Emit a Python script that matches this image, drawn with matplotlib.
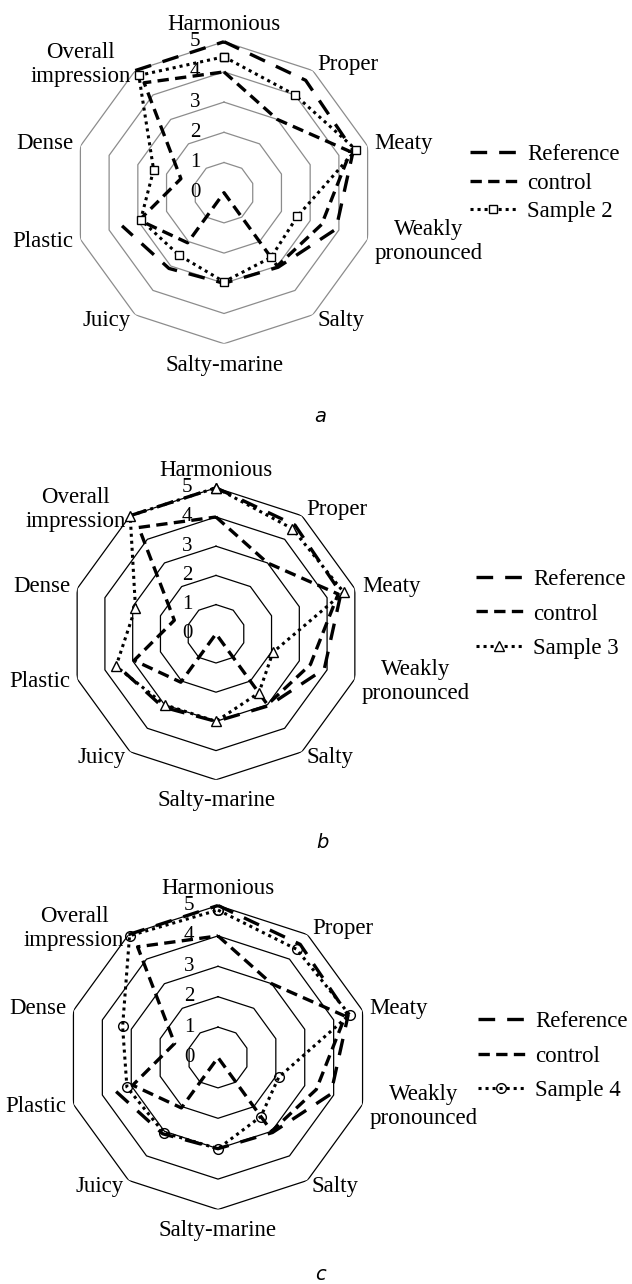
import numpy as np
import matplotlib
matplotlib.use('Agg')
import matplotlib.pyplot as plt

W, H = 632, 1284

categories = ['Harmonious', 'Proper', 'Meaty', 'Weakly\npronounced', 'Salty',
              'Salty-marine', 'Juicy', 'Plastic', 'Dense', 'Overall\nimpression']
ring_values = [0, 1, 2, 3, 4, 5]

# reference has no value for "Dense" (gap in the line)
reference = [5.0, 4.6, 4.5, 3.9, 3.05, 3.0, 3.1, 3.55, np.nan, 5.0]
control = [4.0, 3.0, 4.4, 3.4, 3.0, 0.0, 2.05, 2.95, 1.5, 4.5]
sample2 = [4.5, 4.0, 4.6, 2.55, 2.65, 2.95, 2.55, 2.9, 2.45, 4.8]
sample3 = [5.0, 4.45, 4.6, 2.05, 2.5, 3.0, 3.0, 3.6, 2.9, 5.0]
sample4 = [4.85, 4.4, 4.55, 2.1, 2.4, 3.0, 3.05, 3.15, 3.3, 4.95]

plt.rcParams['font.family'] = ['Liberation Serif', 'DejaVu Serif']

fig = plt.figure(figsize=(W/100, H/100), dpi=100)

n = len(categories)
theta = np.arange(n) * 2*np.pi/n
theta_c = np.append(theta, theta[0])


def closed(v):
    return np.append(v, v[0])


def box(cx, cy, R):
    return [(cx-R)/W, 1-(cy+R)/H, 2*R/W, 2*R/H]


def radar(cx, cy, R, sample, sample_label, marker, mfc, grid_color,
          leg_xy, leg_space, letter, letter_xy):
    ax = fig.add_axes(box(cx, cy, R), projection='polar')
    ax.set_theta_zero_location('N')
    ax.set_theta_direction(-1)
    ax.set_ylim(0, 5)
    ax.grid(False)
    ax.set_xticks([])
    ax.set_yticks([])
    ax.spines['polar'].set_visible(False)
    ax.patch.set_visible(False)

    for k in ring_values[1:]:
        ax.plot(theta_c, [k]*(n+1), color=grid_color, lw=0.9, zorder=1)
    for k in ring_values:
        ax.annotate(str(k), xy=(0, k), xytext=(-17, 0), textcoords='offset points',
                    ha='right', va='center', fontsize=15, annotation_clip=False)

    for t, lab in zip(theta, categories):
        s, c = np.sin(t), np.cos(t)
        if abs(s) < 0.1:
            ha = 'center'
        elif s > 0:
            ha = 'left'
        else:
            ha = 'right'
        r = 5.25
        va = 'center'
        if c > 0.9:
            va, r = 'bottom', 5.22
        elif c < -0.9:
            va, r = 'top', 5.36
        ax.text(t, r, lab, ha=ha, va=va, fontsize=16.5, multialignment='center',
                clip_on=False)

    l1, = ax.plot(theta_c, closed(reference), color='black', lw=2.4,
                  dashes=(5.0, 3.6), label='Reference', zorder=3)
    l2, = ax.plot(theta_c, closed(control), color='black', lw=2.4,
                  dashes=(3.4, 1.9), label='control', zorder=3)
    l3, = ax.plot(theta_c, closed(sample), color='black', lw=2.2,
                  dashes=(1, 1.3), marker=marker, ms=7 if marker != 's' else 6,
                  mfc=mfc, mec='black', mew=1.0, label=sample_label, zorder=4)
    for ln in (l1, l2, l3):
        ln.set_clip_on(False)

    fig.legend(handles=[l1, l2, l3], loc='center left',
               bbox_to_anchor=(leg_xy[0]/W, 1-leg_xy[1]/H), frameon=False,
               fontsize=16.5, handlelength=2.05, handletextpad=0.45,
               borderpad=0, borderaxespad=0, labelspacing=leg_space)

    fig.text(letter_xy[0]/W, 1-letter_xy[1]/H, letter, ha='center', va='center',
             fontsize=14, style='italic', family='DejaVu Sans')


radar(224, 192.7, 151, sample2, 'Sample 2', 's', 'white', '#8c8c8c',
      (470, 183), 0.33, 'a', (320, 417))
radar(216, 633.8, 146, sample3, 'Sample 3', '^', 'white', 'black',
      (476, 614), 0.6, 'b', (322, 843))
radar(218, 1057.5, 152, sample4, 'Sample 4', 'o', 'none', 'black',
      (478, 1056), 0.6, 'c', (320, 1275))

fig.savefig('out.png', dpi=100, facecolor='white')
